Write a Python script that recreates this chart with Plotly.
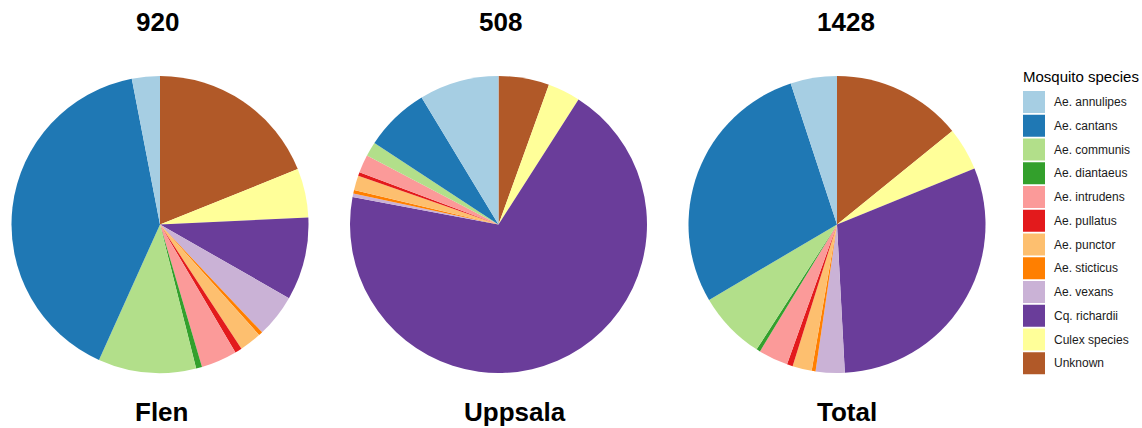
import plotly.graph_objects as go

W, H = 1142, 428

species = ["Ae. annulipes", "Ae. cantans", "Ae. communis", "Ae. diantaeus",
           "Ae. intrudens", "Ae. pullatus", "Ae. punctor", "Ae. sticticus",
           "Ae. vexans", "Cq. richardii", "Culex species", "Unknown"]
colors = ["#A6CEE3", "#1F78B4", "#B2DF8A", "#33A02C", "#FB9A99", "#E31A1C",
          "#FDBF6F", "#FF7F00", "#CAB2D6", "#6A3D9A", "#FFFF99", "#B15928"]

flen = [28, 370, 98, 6, 36, 7, 22, 4, 43, 83, 49, 174]
uppsala = [44, 36, 8, 0, 10, 2, 8, 2, 2, 350, 18, 28]
total = [72, 406, 106, 6, 46, 9, 30, 6, 45, 433, 67, 202]

site_names = ["Flen", "Uppsala", "Total"]
site_counts = ["920", "508", "1428"]
site_values = [flen, uppsala, total]

# layout (pixels)
pie_cx = [160, 498.5, 837]
pie_cy = 224.5
pie_r = 148.5
count_x = [157, 500, 846]
name_x = [161.5, 515, 847]

def px(x):
    return x / W

def py(y):
    return 1 - y / H

fig = go.Figure()
for i, vals in enumerate(site_values):
    cx = pie_cx[i]
    # clockwise from 12 o'clock, starting with the last legend entry
    fig.add_trace(go.Pie(
        labels=species[::-1], values=vals[::-1], sort=False,
        direction="clockwise", rotation=0,
        marker=dict(colors=colors[::-1], line=dict(width=0)),
        textinfo="none", hoverinfo="label+value+percent",
        showlegend=False,
        domain=dict(x=[px(cx - pie_r), px(cx + pie_r)],
                    y=[py(pie_cy + pie_r), py(pie_cy - pie_r)]),
        name=site_names[i],
    ))

annotations = []
big_font = dict(family="Liberation Sans, Arial, sans-serif", size=26, color="black")
for i in range(3):
    annotations.append(dict(text="<b>%s</b>" % site_counts[i], x=px(count_x[i]), y=py(22),
                            xref="paper", yref="paper", xanchor="center", yanchor="middle",
                            showarrow=False, font=big_font))
    annotations.append(dict(text="<b>%s</b>" % site_names[i], x=px(name_x[i]), y=py(412),
                            xref="paper", yref="paper", xanchor="center", yanchor="middle",
                            showarrow=False, font=big_font))

# manual legend
leg_font = dict(family="Liberation Sans, Arial, sans-serif", size=12, color="#1a1a1a")
annotations.append(dict(text="Mosquito species", x=px(1021), y=py(76),
                        xref="paper", yref="paper", xanchor="left", yanchor="middle",
                        showarrow=False,
                        font=dict(family="Liberation Sans, Arial, sans-serif", size=15, color="black")))
shapes = []
key_x0, key_x1 = 1023, 1045
key_y0 = 91
step = 23.75
for j, (sp, col) in enumerate(zip(species, colors)):
    y0 = key_y0 + step * j
    shapes.append(dict(type="rect", xref="paper", yref="paper",
                       x0=px(key_x0), x1=px(key_x1), y0=py(y0), y1=py(y0 + 22),
                       fillcolor=col, line=dict(width=0)))
    annotations.append(dict(text=sp, x=px(1052), y=py(y0 + 11),
                            xref="paper", yref="paper", xanchor="left", yanchor="middle",
                            showarrow=False, font=leg_font))

fig.update_layout(
    width=W, height=H,
    margin=dict(l=0, r=0, t=0, b=0),
    paper_bgcolor="white", plot_bgcolor="white",
    annotations=annotations, shapes=shapes,
    showlegend=False,
)

fig.write_html("out.html",
               config={"displayModeBar": False},
               post_script="document.body.style.margin='0';document.body.style.overflow='hidden';")
